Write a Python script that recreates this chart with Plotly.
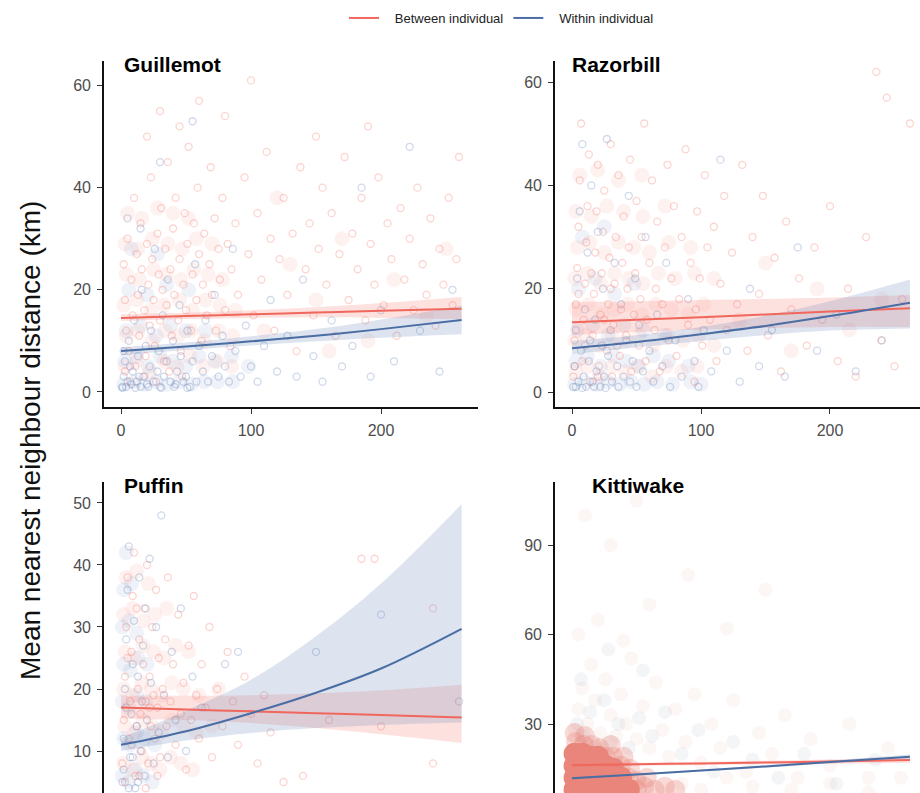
import plotly.graph_objects as go

# ---------------- data ----------------
legend_labels = ["Between individual", "Within individual"]
species = ["Guillemot", "Razorbill", "Puffin", "Kittiwake"]

fit_x = [0, 50, 100, 150, 200, 262]

# fitted lines + confidence bands
guillemot_between_fit = [14.5, 14.85, 15.2, 15.55, 15.9, 16.3]
guillemot_between_lo = [13.9, 14.3, 14.5, 14.6, 14.5, 14.3]
guillemot_between_hi = [15.2, 15.5, 16.0, 16.6, 17.4, 18.6]
guillemot_within_fit = [8.0, 8.9, 9.9, 11.0, 12.3, 14.1]
guillemot_within_lo = [7.2, 8.2, 9.1, 9.9, 10.6, 11.3]
guillemot_within_hi = [8.8, 9.7, 10.9, 12.3, 14.2, 16.9]

razorbill_between_fit = [13.5, 14.0, 14.5, 15.0, 15.6, 16.2]
razorbill_between_lo = [11.0, 11.6, 12.1, 12.4, 12.6, 12.6]
razorbill_between_hi = [17.5, 17.6, 17.8, 18.0, 18.3, 18.8]
razorbill_within_fit = [8.5, 9.7, 11.2, 12.8, 14.7, 17.3]
razorbill_within_lo = [7.3, 8.6, 9.9, 11.0, 11.9, 12.3]
razorbill_within_hi = [9.9, 11.0, 12.6, 14.8, 17.6, 21.8]

puffin_between_fit = [17.0, 16.7, 16.4, 16.1, 15.8, 15.4]
puffin_between_lo = [15.2, 15.0, 14.5, 13.7, 12.7, 11.3]
puffin_between_hi = [18.9, 18.9, 19.0, 19.3, 19.8, 20.7]
puffin_within_fit = [11.0, 13.2, 16.1, 19.4, 23.3, 29.7]
puffin_within_lo = [10.0, 11.7, 12.9, 13.7, 14.2, 14.6]
puffin_within_hi = [12.1, 16.5, 21.5, 28.5, 37.0, 49.8]

kittiwake_between_fit = [16.2, 16.5, 16.8, 17.1, 17.4, 17.9]
kittiwake_between_lo = [15.6, 16.0, 16.3, 16.5, 16.7, 17.0]
kittiwake_between_hi = [16.8, 17.0, 17.3, 17.7, 18.1, 18.8]
kittiwake_within_fit = [11.8, 13.1, 14.4, 15.8, 17.3, 19.0]
kittiwake_within_lo = [11.4, 12.8, 14.1, 15.4, 16.8, 18.3]
kittiwake_within_hi = [12.2, 13.4, 14.7, 16.2, 17.8, 19.8]

guillemot_between_pts = [
    (2, 25), (3, 18), (4, 12), (5, 30), (6, 8), (8, 22), (9, 15), (10, 38), (11, 5), (12, 27),
    (13, 19), (14, 11), (15, 33), (16, 24), (18, 16), (19, 7), (20, 29), (21, 21), (22, 13), (23, 42),
    (24, 26), (25, 18), (26, 9), (28, 31), (29, 23), (30, 14), (31, 36), (32, 20), (33, 6), (34, 28),
    (35, 17), (36, 45), (38, 24), (39, 11), (40, 32), (41, 19), (42, 38), (44, 14), (45, 26), (46, 8),
    (48, 21), (49, 35), (50, 16), (51, 29), (52, 48), (54, 12), (55, 23), (56, 33), (58, 18), (59, 40),
    (60, 27), (62, 10), (63, 21), (64, 31), (66, 15), (68, 25), (69, 44), (70, 19), (72, 34), (73, 12),
    (75, 28), (76, 22), (78, 38), (80, 16), (82, 29), (84, 9), (85, 24), (88, 33), (90, 19), (95, 42),
    (98, 27), (102, 15), (105, 35), (108, 22), (112, 47), (115, 30), (118, 12), (122, 26), (125, 38),
    (128, 19), (132, 31), (135, 8), (138, 44), (142, 24), (145, 33), (148, 15), (152, 28), (155, 40),
    (158, 21), (162, 35), (165, 11), (168, 27), (172, 46), (175, 18), (178, 31), (182, 24), (185, 38),
    (188, 14), (192, 29), (195, 21), (198, 42), (202, 17), (205, 33), (208, 26), (212, 11), (215, 36),
    (218, 22), (222, 30), (225, 16), (228, 40), (232, 25), (235, 19), (238, 34), (242, 13), (245, 28),
    (248, 21), (252, 38), (255, 17), (258, 26), (260, 46), (30, 55), (45, 52), (60, 57), (80, 54),
    (100, 61), (20, 50), (150, 50), (190, 52), (3, 4), (7, 2), (17, 3), (27, 2), (37, 4), (47, 3),
]
guillemot_within_pts = [
    (1, 1), (2, 3), (3, 6), (5, 2), (6, 10), (8, 1.5), (9, 4), (10, 14), (12, 2), (13, 7), (15, 1),
    (16, 20), (18, 3), (19, 9), (20, 1.5), (22, 5), (23, 12), (25, 2), (26, 28), (28, 4), (29, 8),
    (30, 1), (32, 15), (33, 3), (35, 6), (36, 22), (38, 2), (40, 10), (42, 1.5), (43, 4), (45, 17),
    (46, 7), (48, 2), (50, 3), (51, 12), (53, 1), (55, 6), (57, 25), (58, 2), (60, 9), (63, 4),
    (65, 14), (67, 2), (70, 7), (72, 19), (75, 3), (78, 11), (80, 5), (83, 2), (86, 28), (88, 8),
    (92, 3), (96, 13), (100, 5), (105, 2), (110, 9), (115, 18), (120, 4), (128, 11), (135, 3),
    (140, 22), (148, 7), (155, 2), (162, 14), (170, 5), (178, 9), (185, 40), (192, 3), (200, 16),
    (210, 6), (222, 48), (230, 12), (245, 4), (255, 20), (30, 45), (55, 53), (15, 32), (5, 34),
    (1, 0.8), (4, 1), (11, 0.8), (21, 1), (31, 0.8), (41, 1), (51, 0.8), (2, 8), (7, 5), (14, 3),
]
# where the cloud of observations is dense
guillemot_between_dense = [
    (3, 5), (12, 6), (22, 4), (33, 6), (43, 5), (53, 7), (63, 5), (74, 6), (85, 5),
    (4, 11), (13, 12), (24, 10), (34, 12), (44, 11), (54, 12), (64, 10), (75, 12), (86, 11),
    (2, 17), (12, 18), (23, 16), (33, 17), (45, 18), (55, 16), (65, 18), (76, 17), (88, 16),
    (4, 23), (14, 22), (25, 24), (35, 23), (46, 22), (56, 24), (67, 23), (78, 22),
    (3, 29), (13, 28), (24, 30), (36, 29), (47, 28), (58, 30), (70, 29),
    (5, 35), (16, 34), (28, 36), (40, 35), (52, 34),
    (110, 12), (130, 25), (150, 18), (170, 30), (190, 10), (210, 22), (235, 15), (250, 28), (120, 38), (160, 8),
]
guillemot_within_dense = [
    (2, 1.5), (10, 2), (18, 1.5), (27, 2), (36, 1.5), (45, 2), (54, 1.5), (64, 2), (74, 2), (86, 2),
    (3, 6), (12, 7), (21, 5), (30, 7), (40, 6), (50, 5), (60, 7), (72, 6), (85, 7), (98, 5),
    (4, 12), (15, 13), (27, 11), (38, 13), (50, 12), (65, 12),
    (6, 20), (20, 19), (35, 21), (52, 20), (8, 28), (28, 27),
]

razorbill_between_pts = [
    (1, 3), (2, 10), (3, 17), (4, 24), (5, 32), (6, 41), (7, 52), (8, 6), (9, 14), (10, 21), (11, 29),
    (12, 36), (13, 46), (14, 2), (16, 11), (17, 19), (18, 27), (19, 35), (20, 44), (21, 5), (22, 15),
    (23, 23), (24, 31), (25, 39), (27, 8), (28, 17), (29, 26), (30, 48), (31, 3), (32, 13), (33, 21),
    (34, 30), (36, 42), (37, 7), (38, 16), (39, 25), (40, 34), (42, 11), (43, 20), (44, 28), (45, 45),
    (46, 4), (48, 15), (49, 23), (50, 37), (52, 9), (53, 18), (54, 30), (56, 52), (57, 6), (58, 14),
    (60, 25), (62, 41), (64, 12), (65, 20), (66, 33), (68, 4), (70, 17), (72, 28), (74, 44), (75, 10),
    (77, 22), (79, 36), (81, 7), (83, 18), (85, 30), (88, 47), (90, 13), (92, 25), (95, 2), (96, 16),
    (97, 35), (99, 22), (101, 9), (103, 42), (105, 28), (107, 14), (110, 32), (112, 6), (115, 21),
    (118, 38), (120, 12), (124, 27), (128, 17), (132, 44), (136, 8), (140, 30), (145, 19), (148, 38),
    (152, 11), (157, 26), (162, 4), (166, 33), (170, 16), (176, 22), (182, 9), (188, 28), (194, 14),
    (200, 36), (206, 6), (214, 20), (220, 3), (228, 30), (236, 62), (240, 10), (244, 57), (250, 5),
    (256, 18), (262, 52), (2, 5), (5, 19), (10, 9), (15, 23), (20, 3), (25, 14), (30, 20), (35, 9),
]
razorbill_within_pts = [
    (1, 1), (2, 5), (3, 12), (4, 22), (5, 2), (6, 35), (7, 8), (8, 48), (9, 3), (10, 16), (11, 1),
    (12, 27), (13, 6), (14, 10), (15, 40), (16, 2), (18, 14), (19, 4), (20, 31), (22, 1), (23, 9),
    (24, 20), (25, 3), (27, 49), (28, 7), (30, 12), (31, 2), (33, 25), (35, 5), (36, 1), (38, 17),
    (40, 3), (42, 10), (44, 38), (45, 2), (47, 6), (49, 22), (50, 1), (52, 13), (55, 4), (57, 30),
    (60, 8), (63, 2), (66, 15), (70, 5), (73, 25), (76, 1), (80, 10), (85, 3), (90, 18), (95, 6),
    (98, 1), (102, 12), (108, 4), (115, 45), (120, 8), (130, 2), (138, 20), (145, 5), (155, 12),
    (165, 3), (175, 28), (190, 8), (205, 15), (220, 4), (240, 10), (3, 1), (8, 0.8), (17, 1), (26, 0.8),
]
razorbill_between_dense = [
    (3, 4), (12, 5), (21, 3), (31, 5), (41, 4), (51, 5), (62, 3), (73, 5), (85, 4), (97, 5),
    (2, 10), (11, 11), (21, 9), (31, 11), (42, 10), (52, 11), (63, 9), (74, 11), (86, 10), (98, 11), (110, 9),
    (3, 16), (13, 17), (23, 15), (33, 16), (43, 17), (54, 15), (65, 17), (77, 16), (90, 15), (102, 17),
    (2, 22), (12, 23), (22, 21), (33, 23), (44, 22), (55, 21), (67, 23), (80, 22), (95, 23), (110, 22),
    (4, 28), (14, 29), (25, 27), (36, 29), (48, 28), (60, 27), (75, 29), (92, 28),
    (3, 35), (15, 34), (27, 36), (40, 35), (55, 34), (72, 36),
    (6, 42), (20, 43), (36, 41), (54, 42),
    (130, 14), (150, 25), (170, 8), (190, 20), (215, 12), (240, 18),
]
razorbill_within_dense = [
    (2, 1.5), (10, 2), (19, 1.5), (28, 2), (37, 1.5), (46, 2), (56, 1.5), (66, 2), (78, 1.5), (92, 2), (100, 1.5),
    (3, 6), (12, 7), (22, 5), (32, 7), (42, 6), (52, 5), (63, 7), (75, 6), (90, 5),
    (4, 12), (16, 13), (28, 11), (40, 13), (55, 12), (72, 11),
    (5, 20), (18, 22), (33, 19), (48, 21), (8, 30), (25, 32),
]

puffin_between_pts = [
    (1, 8), (2, 15), (3, 22), (4, 30), (5, 38), (6, 12), (7, 18), (8, 26), (9, 35), (10, 42), (11, 6),
    (12, 14), (13, 20), (14, 28), (15, 16), (16, 10), (17, 24), (18, 33), (19, 18), (20, 40), (21, 8),
    (22, 22), (23, 14), (24, 30), (25, 19), (26, 12), (27, 36), (28, 17), (29, 25), (30, 9), (32, 20),
    (34, 28), (35, 14), (36, 38), (38, 18), (40, 24), (42, 11), (44, 32), (46, 16), (48, 21), (50, 7),
    (52, 27), (54, 15), (56, 35), (58, 19), (60, 12), (62, 24), (65, 17), (68, 30), (70, 9), (74, 20),
    (78, 14), (82, 26), (86, 18), (90, 11), (95, 22), (100, 16), (105, 8), (110, 19), (115, 13),
    (125, 5), (140, 6), (160, 15), (200, 14), (240, 8), (185, 41), (195, 41), (240, 33), (3, 5),
    (8, 11), (14, 6), (19, 4), (5, 25), (12, 33), (22, 17), (28, 6),
]
puffin_within_pts = [
    (1, 5), (2, 12), (3, 20), (4, 28), (5, 36), (6, 43), (7, 9), (8, 16), (9, 24), (10, 31), (11, 4),
    (12, 14), (13, 22), (14, 38), (15, 10), (16, 18), (17, 27), (18, 6), (19, 33), (20, 15), (22, 41),
    (23, 21), (25, 8), (27, 30), (29, 13), (31, 48), (33, 19), (36, 9), (39, 26), (42, 15), (46, 33),
    (50, 10), (55, 22), (62, 17), (80, 24), (90, 26), (150, 26), (200, 32), (260, 18), (2, 7), (6, 4),
    (4, 17), (9, 9), (13, 5),
]
puffin_between_dense = [
    (2, 8), (9, 7), (16, 9), (23, 8), (30, 7), (38, 9), (46, 8), (55, 7),
    (3, 14), (10, 13), (17, 15), (24, 14), (31, 13), (39, 15), (48, 14), (58, 13), (70, 14),
    (2, 20), (9, 19), (16, 21), (23, 20), (31, 19), (39, 21), (48, 20), (60, 19), (75, 20),
    (3, 26), (10, 25), (17, 27), (25, 26), (33, 25), (42, 27), (52, 26),
    (2, 32), (9, 33), (17, 31), (26, 32), (35, 33),
    (4, 38), (12, 39), (21, 37),
]
puffin_within_dense = [
    (1, 6), (6, 5), (11, 7), (17, 6), (24, 5),
    (2, 12), (7, 11), (12, 13), (18, 12), (26, 11),
    (1, 18), (6, 17), (12, 19), (19, 18),
    (2, 24), (7, 23), (13, 25), (20, 24),
    (1, 30), (6, 31), (12, 29),
    (2, 36), (8, 37), (4, 42),
]

# Kittiwake: the saturated core of the cloud, its fading rim and the faint spread above
kittiwake_between_core = [
    (2, 8), (8, 8), (14, 8), (20, 8), (26, 8), (32, 8), (38, 8), (44, 8),
    (2, 12), (8, 12), (14, 12), (20, 12), (26, 12), (32, 12), (38, 12),
    (2, 16), (8, 16), (14, 16), (20, 16), (26, 16), (32, 15),
    (2, 20), (8, 20), (14, 19), (20, 19),
]
kittiwake_between_pts = [
    (50, 8), (56, 9), (64, 8), (72, 9), (80, 8), (44, 12), (50, 11), (58, 12), (38, 16), (45, 15),
    (26, 19), (32, 19), (3, 24), (9, 23), (15, 23), (21, 22), (2, 27), (10, 26), (30, 23), (40, 19),
]
kittiwake_between_dense = [
    (2, 28), (5, 35), (8, 42), (12, 30), (15, 50), (18, 38), (22, 27), (26, 45), (30, 33), (34, 26),
    (38, 40), (42, 30), (46, 52), (50, 25), (55, 36), (60, 22), (65, 44), (70, 28), (75, 19), (80, 35),
    (88, 24), (95, 40), (100, 17), (108, 30), (115, 22), (125, 38), (135, 14), (145, 27), (155, 20),
    (165, 33), (175, 12), (185, 25), (200, 16), (215, 30), (230, 12), (245, 22), (5, 60), (20, 65),
    (40, 58), (60, 70), (90, 80), (30, 90), (120, 62), (150, 75), (10, 100), (50, 105), (85, 10),
    (100, 8), (120, 12), (140, 9), (170, 8), (200, 10), (230, 7), (255, 12),
]
kittiwake_within_pts = [
    (4, 30), (9, 26), (14, 34), (19, 22), (25, 38), (30, 24), (36, 30), (44, 22), (52, 32), (62, 26),
    (72, 34), (85, 20), (98, 28), (110, 14), (125, 24), (140, 18), (160, 12), (180, 20), (205, 10),
    (235, 18), (7, 45), (28, 55), (55, 48),
]

y_ticks = [[0, 20, 40, 60], [0, 20, 40, 60], [10, 20, 30, 40, 50], [30, 60, 90]]
x_ticks = [0, 100, 200]

# ---------------- styling ----------------
W, H = 920, 793
RED_LINE = "#F0675C"
BLUE_LINE = "#4A6DA3"
RED_PT = "rgba(246,120,110,0.32)"
BLUE_PT = "rgba(95,130,185,0.30)"
RED_HAZE = "rgba(246,125,115,0.10)"
BLUE_HAZE = "rgba(95,130,185,0.10)"
RED_BAND = "rgba(248,118,109,0.22)"
BLUE_BAND = "rgba(100,132,180,0.22)"
FONT = "Liberation Sans, Arial, sans-serif"

panels = [
    dict(name=species[0], dom_x=[104 / W, 478 / W], dom_y=[1 - 407 / H, 1 - 61 / H],
         xr=[-13.1, 274.6], yr=[-2.95, 64.8], title_px=(122, 64), showx=True,
         bpts=guillemot_between_pts, wpts=guillemot_within_pts,
         bd=guillemot_between_dense, wd=guillemot_within_dense,
         bf=guillemot_between_fit, bl=guillemot_between_lo, bh=guillemot_between_hi,
         wf=guillemot_within_fit, wl=guillemot_within_lo, wh=guillemot_within_hi),
    dict(name=species[1], dom_x=[555 / W, 1.0], dom_y=[1 - 407 / H, 1 - 61 / H],
         xr=[-13.2, 269.8], yr=[-2.9, 64.1], title_px=(570, 64), showx=True,
         bpts=razorbill_between_pts, wpts=razorbill_within_pts,
         bd=razorbill_between_dense, wd=razorbill_within_dense,
         bf=razorbill_between_fit, bl=razorbill_between_lo, bh=razorbill_between_hi,
         wf=razorbill_within_fit, wl=razorbill_within_lo, wh=razorbill_within_hi),
    dict(name=species[2], dom_x=[104 / W, 478 / W], dom_y=[0.0, 1 - 482 / H],
         xr=[-13.1, 274.6], yr=[3.23, 53.38], title_px=(122, 485), showx=False,
         bpts=puffin_between_pts, wpts=puffin_within_pts,
         bd=puffin_between_dense, wd=puffin_within_dense,
         bf=puffin_between_fit, bl=puffin_between_lo, bh=puffin_between_hi,
         wf=puffin_within_fit, wl=puffin_within_lo, wh=puffin_within_hi),
    dict(name=species[3], dom_x=[555 / W, 1.0], dom_y=[0.0, 1 - 482 / H],
         xr=[-13.2, 269.8], yr=[6.87, 111.2], title_px=(590, 485), showx=False,
         bpts=kittiwake_between_pts, wpts=kittiwake_within_pts,
         bd=kittiwake_between_dense, wd=[],
         bf=kittiwake_between_fit, bl=kittiwake_between_lo, bh=kittiwake_between_hi,
         wf=kittiwake_within_fit, wl=kittiwake_within_lo, wh=kittiwake_within_hi),
]


def xs(pts):
    return [q[0] for q in pts]


def ys(pts):
    return [q[1] for q in pts]


fig = go.Figure()
layout_axes = {}

for i, p in enumerate(panels):
    k = "" if i == 0 else str(i + 1)
    xa, ya = "x" + k, "y" + k
    kitti = p["name"] == "Kittiwake"
    common = dict(xaxis=xa, yaxis=ya, showlegend=False, hoverinfo="skip", mode="markers")

    if kitti:
        fig.add_trace(go.Scatter(x=xs(p["bd"]), y=ys(p["bd"]),
                                 marker=dict(size=14, color="rgba(225,150,145,0.09)"), **common))
        fig.add_trace(go.Scatter(x=xs(p["wpts"]), y=ys(p["wpts"]),
                                 marker=dict(size=14, color="rgba(130,145,170,0.09)"), **common))
        fig.add_trace(go.Scatter(x=xs(p["bpts"]), y=ys(p["bpts"]),
                                 marker=dict(size=20, color="rgba(232,132,122,0.30)"), **common))
        fig.add_trace(go.Scatter(x=xs(kittiwake_between_core), y=ys(kittiwake_between_core),
                                 marker=dict(size=22, color="rgb(233,133,122)"), **common))
    else:
        fig.add_trace(go.Scatter(x=xs(p["bd"]), y=ys(p["bd"]),
                                 marker=dict(size=15, color=RED_HAZE), **common))
        fig.add_trace(go.Scatter(x=xs(p["wd"]), y=ys(p["wd"]),
                                 marker=dict(size=15, color=BLUE_HAZE), **common))
        fig.add_trace(go.Scatter(x=xs(p["bpts"]), y=ys(p["bpts"]),
                                 marker=dict(symbol="circle-open", size=7, color=RED_PT,
                                             line=dict(width=1.3, color=RED_PT)), **common))
        fig.add_trace(go.Scatter(x=xs(p["wpts"]), y=ys(p["wpts"]),
                                 marker=dict(symbol="circle-open", size=7, color=BLUE_PT,
                                             line=dict(width=1.3, color=BLUE_PT)), **common))

    # confidence bands
    for lo, hi, col in [(p["bl"], p["bh"], RED_BAND), (p["wl"], p["wh"], BLUE_BAND)]:
        fig.add_trace(go.Scatter(x=fit_x, y=lo, mode="lines", line=dict(width=0, shape="spline"),
                                 xaxis=xa, yaxis=ya, showlegend=False, hoverinfo="skip"))
        fig.add_trace(go.Scatter(x=fit_x, y=hi, mode="lines", line=dict(width=0, shape="spline"),
                                 fill="tonexty", fillcolor=col,
                                 xaxis=xa, yaxis=ya, showlegend=False, hoverinfo="skip"))
    # fitted lines
    fig.add_trace(go.Scatter(x=fit_x, y=p["bf"], mode="lines", xaxis=xa, yaxis=ya,
                             line=dict(color=RED_LINE, width=2, shape="spline"),
                             name="\u00a0\u00a0\u00a0" + legend_labels[0], showlegend=(i == 0),
                             legendgroup="b"))
    fig.add_trace(go.Scatter(x=fit_x, y=p["wf"], mode="lines", xaxis=xa, yaxis=ya,
                             line=dict(color=BLUE_LINE, width=2, shape="spline"),
                             name="\u00a0\u00a0\u00a0" + legend_labels[1], showlegend=(i == 0),
                             legendgroup="w"))

    axis_common = dict(showline=True, linecolor="#111", linewidth=1.6, ticks="outside",
                       ticklen=5, tickwidth=1, tickcolor="#333", showgrid=False, zeroline=False,
                       ticklabelstandoff=3, tickfont=dict(size=16, color="#4d4d4d", family=FONT))
    layout_axes["xaxis" + k] = dict(domain=p["dom_x"], range=p["xr"], anchor=ya, visible=p["showx"],
                                    tickvals=x_ticks, **axis_common)
    layout_axes["yaxis" + k] = dict(domain=p["dom_y"], range=p["yr"], anchor=xa,
                                    tickvals=y_ticks[i], **axis_common)

annotations = []
for p in panels:
    tx, ty = p["title_px"]
    annotations.append(dict(text="<b>" + p["name"] + "</b>", x=tx / W, y=1 - ty / H, xref="paper", yref="paper",
                            xanchor="left", yanchor="middle", showarrow=False,
                            font=dict(size=21, color="#000", family=FONT)))
annotations.append(dict(text="Mean nearest neighbour distance (km)", x=30 / W, y=1 - 441 / H,
                        xref="paper", yref="paper", textangle=-90, showarrow=False,
                        xanchor="center", yanchor="middle",
                        font=dict(size=28, color="#111", family=FONT)))

fig.update_layout(
    width=W, height=H, margin=dict(l=0, r=0, t=0, b=0),
    paper_bgcolor="white", plot_bgcolor="white",
    showlegend=True,
    legend=dict(orientation="h", x=344 / W, xanchor="left", y=1 - 18 / H, yanchor="middle",
                font=dict(size=13, color="#222", family=FONT), bgcolor="rgba(0,0,0,0)",
                itemwidth=30, tracegroupgap=0),
    annotations=annotations,
    **layout_axes,
)

fig.write_html("out.html", config={"displayModeBar": False},
               post_script="document.body.style.margin='0';document.body.style.padding='0';")
